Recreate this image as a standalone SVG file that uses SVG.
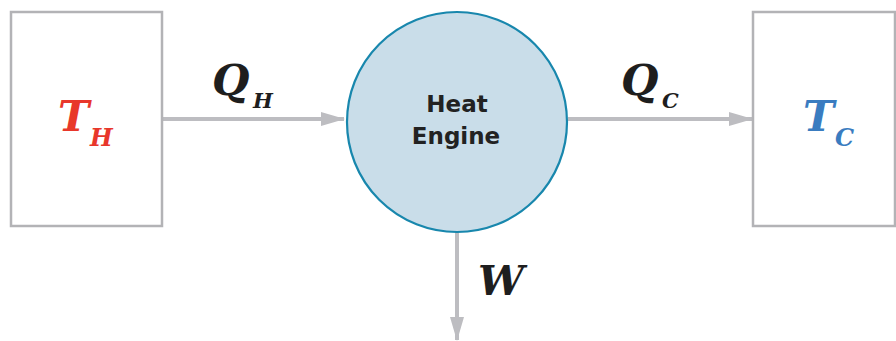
<svg xmlns="http://www.w3.org/2000/svg" width="896" height="341" viewBox="0 0 896 341">
<style>
.box{fill:#fff;stroke:#b3b3b6;stroke-width:2.5}
.conn{stroke:#bdbdc1;stroke-width:4;fill:none}
.sym{font-family:"DejaVu Serif",serif;font-weight:bold;font-style:italic}
.lbl{font-family:"DejaVu Sans",sans-serif;font-weight:bold;font-size:23px;fill:#222;text-anchor:middle}
</style>
<defs>
<marker id="ah" viewBox="0 0 24 14" refX="23" refY="7" markerWidth="24" markerHeight="14" markerUnits="userSpaceOnUse" orient="auto">
<path d="M0,0 L24,7 L0,14 z" fill="#bdbdc1"/>
</marker>
</defs>
<rect width="896" height="341" fill="#fff"/>
<g id="connectors">
<line class="conn" x1="163" y1="119" x2="344" y2="119" marker-end="url(#ah)"/>
<line class="conn" x1="568" y1="119" x2="752" y2="119" marker-end="url(#ah)"/>
<line class="conn" x1="457" y1="232" x2="457" y2="340" marker-end="url(#ah)"/>
</g>
<g id="hot">
<rect class="box" x="11" y="12" width="151" height="214"/>
<text class="sym" x="58" y="131" font-size="42" fill="#e8372b">T</text>
<text class="sym" x="90" y="146" font-size="24" fill="#e8372b">H</text>
</g>
<g id="engine">
<circle cx="457" cy="122" r="110" fill="#c9dde9" stroke="#1887ad" stroke-width="2.2"/>
<text class="lbl" x="457" y="112">Heat</text>
<text class="lbl" x="456" y="144">Engine</text>
</g>
<g id="cold">
<rect class="box" x="753" y="12" width="142" height="214"/>
<text class="sym" x="803" y="131" font-size="42" fill="#3a7cc0">T</text>
<text class="sym" x="835" y="146" font-size="24" fill="#3a7cc0">C</text>
</g>
<g id="labels">
<text class="sym" x="212" y="95" font-size="43" fill="#1e1e1e">Q</text>
<text class="sym" x="253" y="108" font-size="21" fill="#1e1e1e">H</text>
<text class="sym" x="621" y="95" font-size="43" fill="#1e1e1e">Q</text>
<text class="sym" x="662" y="108" font-size="21" fill="#1e1e1e">C</text>
<text class="sym" x="478" y="295" font-size="41" fill="#1e1e1e">W</text>
</g>
</svg>
